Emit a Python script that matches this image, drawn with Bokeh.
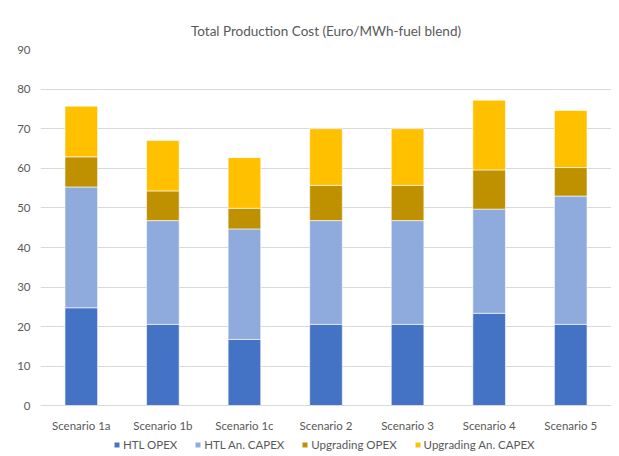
from bokeh.plotting import figure
from bokeh.models import FactorRange, Range1d, Legend, LegendItem, FixedTicker
from bokeh.embed import file_html
from bokeh.resources import INLINE

scenarios = ["Scenario 1a", "Scenario 1b", "Scenario 1c", "Scenario 2", "Scenario 3", "Scenario 4", "Scenario 5"]
htl_opex = [24.8, 20.6, 16.8, 20.6, 20.6, 23.4, 20.6]
htl_capex = [30.5, 26.2, 27.9, 26.2, 26.2, 26.3, 32.4]
upg_opex = [7.6, 7.5, 5.2, 8.9, 8.9, 9.9, 7.2]
upg_capex = [12.8, 12.7, 12.8, 14.3, 14.3, 17.6, 14.4]
series = ["HTL OPEX", "HTL An. CAPEX", "Upgrading OPEX", "Upgrading An. CAPEX"]
colors = ["#4472C4", "#8FAADC", "#BF9000", "#FFC000"]
y_ticks = [0, 10, 20, 30, 40, 50, 60, 70, 80, 90]
title_text = "Total Production Cost (Euro/MWh-fuel blend)"

FONT = "Lato"
TXT = "#595959"
GRID = "#D9D9D9"

data = {"x": scenarios, "HTL OPEX": htl_opex, "HTL An. CAPEX": htl_capex,
        "Upgrading OPEX": upg_opex, "Upgrading An. CAPEX": upg_capex}

# frame extends below zero to leave room (inside the frame) for the category labels and legend
p = figure(x_range=FactorRange(factors=scenarios), y_range=Range1d(-12.5, 90),
           width=611, height=455, output_backend="svg", toolbar_location=None,
           x_axis_location="above",
           min_border_left=40, min_border_right=0, min_border_top=49, min_border_bottom=0)

p.title.text = title_text
p.title.align = "center"
p.title.offset = -10
p.title.text_font = FONT
p.title.text_font_size = "13.5px"
p.title.text_color = TXT
p.title.text_font_style = "normal"
p.title.standoff = 22

renderers = p.vbar_stack(series, x="x", width=0.4, source=data, color=colors,
                         line_color="white", line_width=0.6)

items = [LegendItem(label=s, renderers=[r]) for s, r in zip(series, renderers)]
legend = Legend(items=items, orientation="horizontal", location=(73, 4),
                glyph_width=7, glyph_height=7, label_standoff=3, spacing=17,
                label_text_font=FONT, label_text_font_size="11.5px", label_text_color=TXT,
                label_height=12, border_line_color=None, background_fill_alpha=0,
                padding=0, margin=0)
p.add_layout(legend)

p.outline_line_color = None
p.xgrid.grid_line_color = None
p.ygrid.ticker = FixedTicker(ticks=y_ticks)
p.ygrid.grid_line_color = GRID
p.ygrid.grid_line_width = 1
p.yaxis.ticker = FixedTicker(ticks=y_ticks)
p.yaxis.axis_line_color = None
p.xaxis.fixed_location = 0
p.xaxis.axis_line_color = GRID
for ax in (p.xaxis[0], p.yaxis[0]):
    ax.major_tick_line_color = None
    ax.minor_tick_line_color = None
    ax.major_tick_out = 0
    ax.major_tick_in = 0
    ax.minor_tick_out = 0
    ax.minor_tick_in = 0
    ax.major_label_text_font = FONT
    ax.major_label_text_font_size = "11.5px"
    ax.major_label_text_color = TXT
p.yaxis.major_label_standoff = 10
p.xaxis.major_label_standoff = -26

open("out.html", "w").write(file_html(p, INLINE))
